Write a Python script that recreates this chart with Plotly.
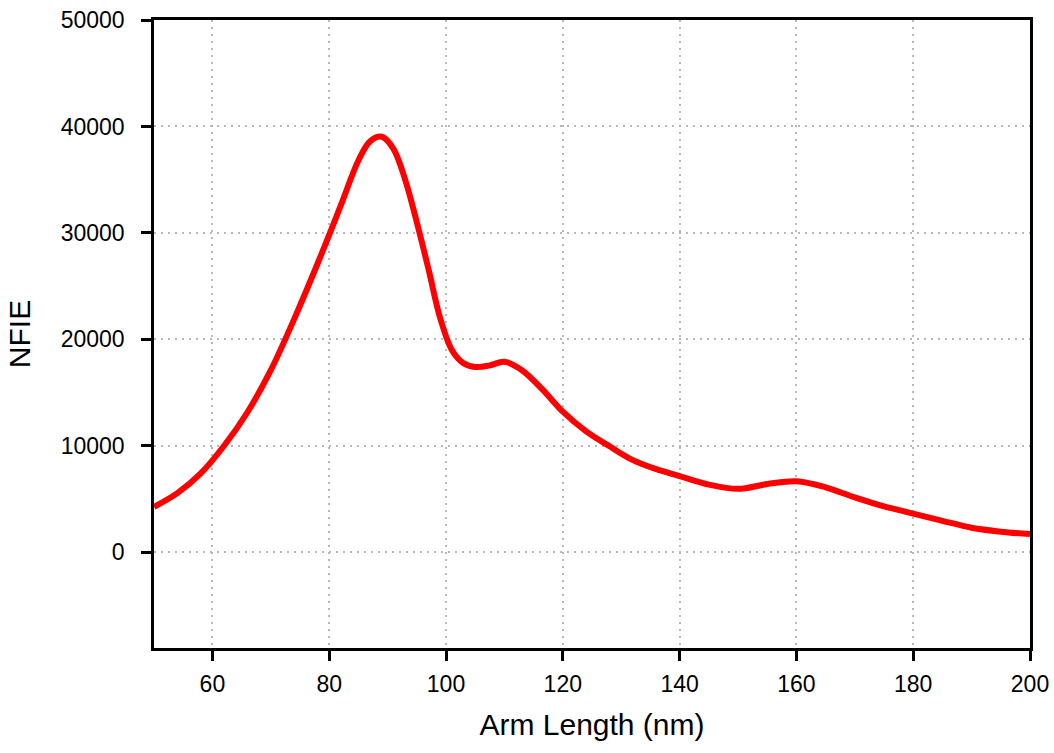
import plotly.graph_objects as go

# Arm length (nm) and near-field intensity enhancement
arm_length = [50, 54, 58, 62, 66, 70, 74, 78, 82, 85, 87, 89, 91, 93, 95, 97,
              99, 101, 103, 105, 107.5, 110, 113, 116.5, 120, 124, 128, 132,
              136, 140, 145, 150, 155, 160, 165, 170, 175, 180, 185, 190, 195,
              200]
nfie = [4260, 5550, 7400, 10000, 13150, 17100, 21900, 27100, 32600, 36800,
        38600, 39030, 37900, 35000, 31000, 26600, 22000, 19000, 17750, 17400,
        17550, 17900, 17100, 15300, 13200, 11350, 9950, 8650, 7800, 7150, 6350,
        5950, 6400, 6670, 6100, 5150, 4300, 3630, 2950, 2300, 1930, 1700]

x_ticks = [60, 80, 100, 120, 140, 160, 180, 200]
y_ticks = [0, 10000, 20000, 30000, 40000, 50000]

fig = go.Figure(go.Scatter(
    x=arm_length, y=nfie, mode="lines",
    line=dict(color="#ff0000", width=6, shape="spline", smoothing=1.0),
    showlegend=False,
))

font_family = "Liberation Sans, Arial, sans-serif"
axis_common = dict(
    showline=True, linecolor="black", linewidth=2.5, mirror=True,
    ticks="outside", ticklen=10, tickwidth=2.5, tickcolor="black",
    showgrid=True, gridcolor="#b8b8b8", gridwidth=2, griddash="2px,5px",
    zeroline=False, automargin=False,
    tickfont=dict(family=font_family, size=23, color="black"),
    title_font=dict(family=font_family, size=30, color="black"),
)

fig.update_xaxes(range=[50, 200], tickvals=x_ticks, ticktext=[str(v) for v in x_ticks],
                 ticklabelstandoff=4,
                 title_text="Arm Length (nm)", title_standoff=18, **axis_common)
fig.update_yaxes(range=[-9000, 50000], tickvals=y_ticks, ticktext=[str(v) for v in y_ticks],
                 ticklabelstandoff=12,
                 title_text="NFIE", title_standoff=22, **axis_common)

fig.update_layout(
    width=1054, height=753,
    margin=dict(l=154, r=24, t=20, b=105),
    paper_bgcolor="white", plot_bgcolor="white",
)

fig.write_html("out.html")
